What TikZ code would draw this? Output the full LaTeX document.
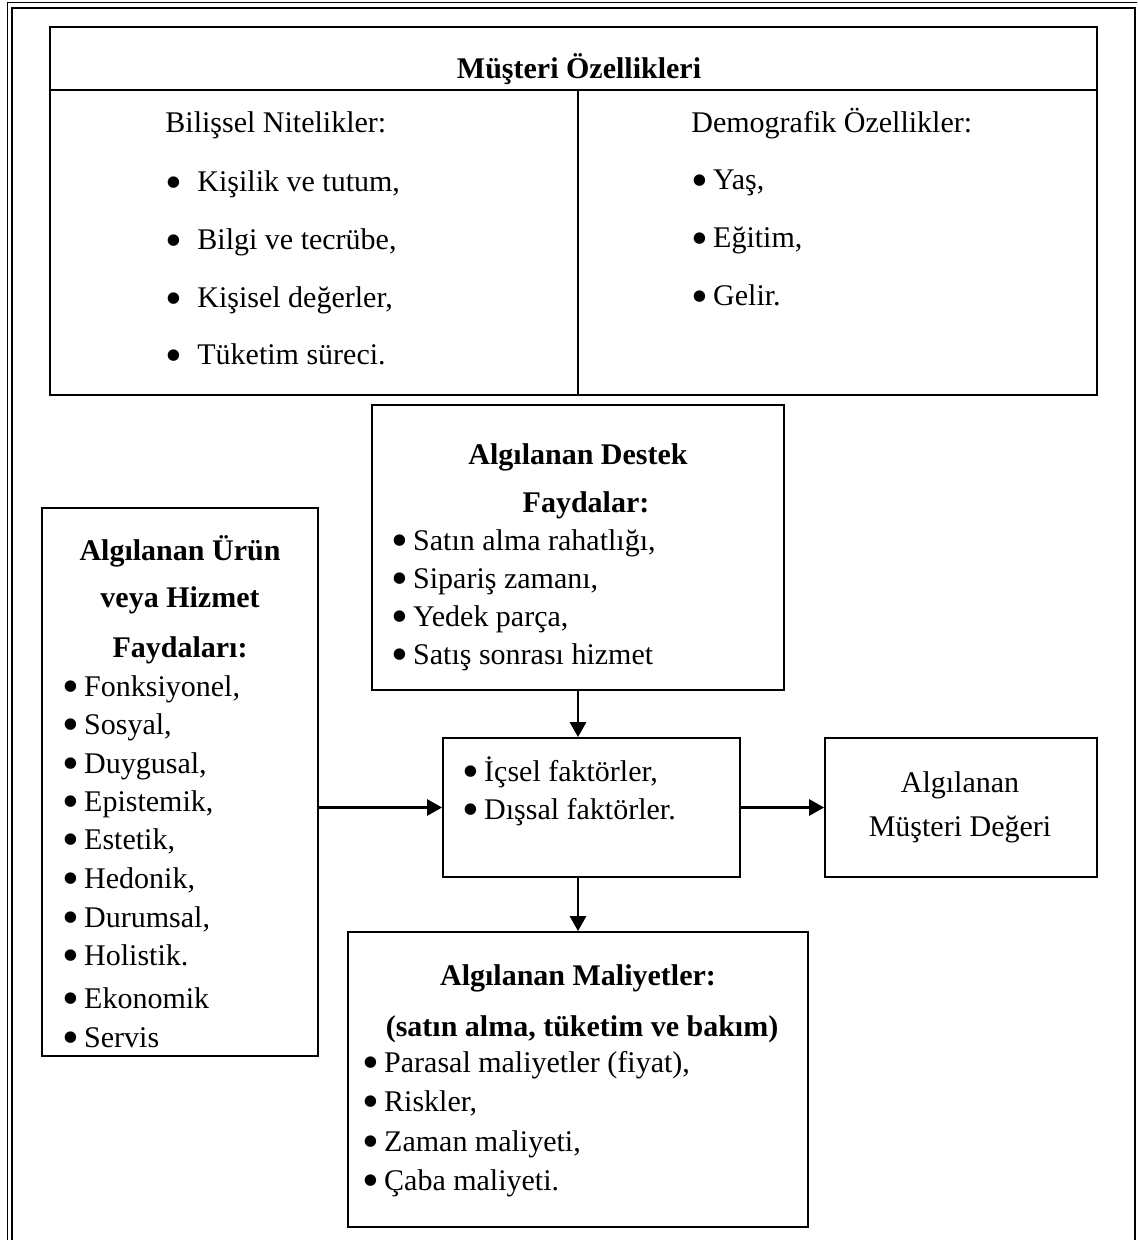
\documentclass[tikz,border=0pt]{standalone}
\usepackage{fontspec}
\setmainfont{Liberation Serif}
\usetikzlibrary{arrows.meta}
\newcommand{\nokta}{\raisebox{-3.3pt}[0pt][0pt]{\scalebox{1.6}{•}}\hspace{2.5pt}}

\begin{document}
\begin{tikzpicture}[x=0.5pt,y=-0.5pt,font=\fontsize{15}{18}\selectfont,
  kutu/.style={draw,line width=0.9pt,inner sep=0pt},
  yazi/.style={anchor=base west,inner sep=0pt},
  orta/.style={anchor=base,inner sep=0pt},
  kalin/.style={orta,font=\fontsize{15}{18}\selectfont\bfseries},
  ok/.style={line width=1.4pt,-{Triangle[length=7.5pt,width=8pt]}}]
  \useasboundingbox (0,0) rectangle (1137,1240);
  % dış çerçeve
  \draw[line width=0.5pt] (7,1240) -- (7,3) -- (1137,3);
  \draw[line width=0.9pt] (12,1240) -- (12,8) -- (1135,8) -- (1135,1240);
  % kutular
  \node[kutu,minimum width=523.5pt,minimum height=184pt] (ozellik) at (573.5,211) {};
  \node[kutu,minimum width=206pt,minimum height=142.5pt] (destek) at (578,547.5) {};
  \node[kutu,minimum width=138pt,minimum height=274pt] (urun) at (180,782) {};
  \node[kutu,minimum width=148.5pt,minimum height=69.5pt] (faktor) at (591.5,807.5) {};
  \node[kutu,minimum width=136pt,minimum height=69.5pt] (deger) at (961,807.5) {};
  \node[kutu,minimum width=230pt,minimum height=147.5pt] (maliyet) at (578,1079.5) {};
  % Müşteri Özellikleri: başlık satırı ve bölme
  \coordinate (baslik) at (0,90);
  \coordinate (bolme) at (578,90);
  \draw[line width=0.9pt] (ozellik.west |- baslik) -- (ozellik.east |- baslik);
  \draw[line width=0.9pt] (bolme) -- (bolme |- ozellik.south);
  \node[kalin] (ozbaslik) at (579,79) {Müşteri Özellikleri};
  % bilişsel nitelikler
  \node[yazi] (bilissel) at (165,133) {Bilişsel Nitelikler:};
  \node[yazi] (b1) at (165,192) {\makebox[16pt][l]{\nokta}Kişilik ve tutum,};
  \node[yazi] (b2) at (165,250) {\makebox[16pt][l]{\nokta}Bilgi ve tecrübe,};
  \node[yazi] (b3) at (165,308) {\makebox[16pt][l]{\nokta}Kişisel değerler,};
  \node[yazi] (b4) at (165,365) {\makebox[16pt][l]{\nokta}Tüketim süreci.};
  % demografik özellikler
  \node[yazi] (demografik) at (691,133) {Demografik Özellikler:};
  \node[yazi] (d1) at (691,190) {\nokta Yaş,};
  \node[yazi] (d2) at (691,248) {\nokta Eğitim,};
  \node[yazi] (d3) at (691,306) {\nokta Gelir.};
  % destek faydaları
  \node[kalin] (destek1) at (578,465) {Algılanan Destek};
  \node[kalin] (destek2) at (586,512) {Faydalar:};
  \node[yazi] (s1) at (391,550) {\nokta Satın alma rahatlığı,};
  \node[yazi] (s2) at (391,588) {\nokta Sipariş zamanı,};
  \node[yazi] (s3) at (391,626) {\nokta Yedek parça,};
  \node[yazi] (s4) at (391,664) {\nokta Satış sonrası hizmet};
  % ürün veya hizmet faydaları
  \node[kalin] (urun1) at (180,560) {Algılanan Ürün};
  \node[kalin] (urun2) at (180,607) {veya Hizmet};
  \node[kalin] (urun3) at (180,657) {Faydaları:};
  \node[yazi] (u1) at (62,696) {\nokta Fonksiyonel,};
  \node[yazi] (u2) at (62,734) {\nokta Sosyal,};
  \node[yazi] (u3) at (62,773) {\nokta Duygusal,};
  \node[yazi] (u4) at (62,811) {\nokta Epistemik,};
  \node[yazi] (u5) at (62,849) {\nokta Estetik,};
  \node[yazi] (u6) at (62,888) {\nokta Hedonik,};
  \node[yazi] (u7) at (62,927) {\nokta Durumsal,};
  \node[yazi] (u8) at (62,965) {\nokta Holistik.};
  \node[yazi] (u9) at (62,1008) {\nokta Ekonomik};
  \node[yazi] (u10) at (62,1047) {\nokta Servis};
  % faktörler
  \node[yazi] (f1) at (462,781) {\nokta İçsel faktörler,};
  \node[yazi] (f2) at (462,819) {\nokta Dışsal faktörler.};
  % algılanan müşteri değeri
  \node[orta] (deger1) at (960,792) {Algılanan};
  \node[orta] (deger2) at (960,836) {Müşteri Değeri};
  % maliyetler
  \node[kalin] (mal1) at (578,985) {Algılanan Maliyetler:};
  \node[kalin] (mal2) at (582,1036) {(satın alma, tüketim ve bakım)};
  \node[yazi] (m1) at (362,1072) {\nokta Parasal maliyetler (fiyat),};
  \node[yazi] (m2) at (362,1111) {\nokta Riskler,};
  \node[yazi] (m3) at (362,1151) {\nokta Zaman maliyeti,};
  \node[yazi] (m4) at (362,1190) {\nokta Çaba maliyeti.};
  % oklar
  \draw[ok] (urun.east |- faktor.west) -- (faktor.west);
  \draw[ok] (faktor.east) -- (deger.west);
  \draw[ok] (destek.south) -- (destek.south |- faktor.north);
  \draw[ok] (maliyet.north |- faktor.south) -- (maliyet.north);
\end{tikzpicture}
\end{document}
